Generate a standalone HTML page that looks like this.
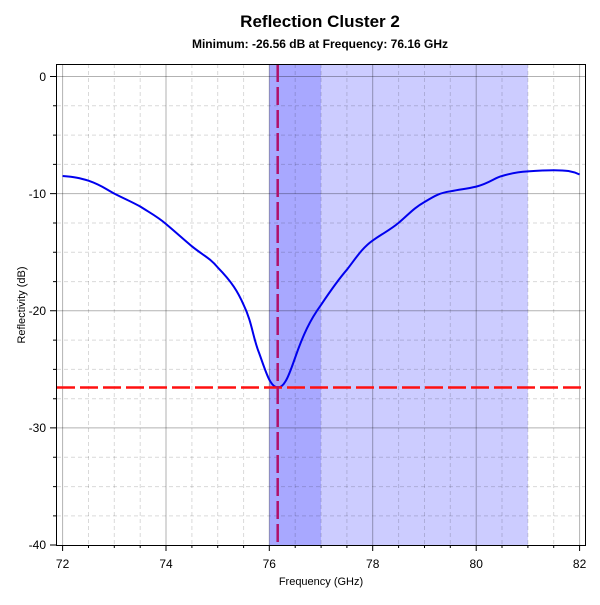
<!DOCTYPE html>
<html><head><style>
body{margin:0;background:#fff;font-family:"Liberation Sans",sans-serif}
</style></head><body>
<svg width="600" height="600" xmlns="http://www.w3.org/2000/svg" font-family="Liberation Sans, sans-serif">
<rect width="600" height="600" fill="#fff"/>
<text x="320" y="27" text-anchor="middle" font-size="17" font-weight="bold">Reflection Cluster 2</text>
<text x="320" y="48" text-anchor="middle" font-size="12" font-weight="bold">Minimum: -26.56 dB at Frequency: 76.16 GHz</text>
<!-- bands -->
<rect x="269.3" y="64" width="258.6" height="481" fill="#ccccff"/>
<rect x="269.3" y="64" width="51.7" height="481" fill="#a8a8ff"/>
<!-- minor grid -->
<g stroke="#000" stroke-opacity="0.15" stroke-width="1" stroke-dasharray="4,3">
<path d="M88.5 64V545M140.2 64V545M191.9 64V545M243.6 64V545M295.2 64V545M346.9 64V545M398.6 64V545M450.3 64V545M502 64V545M553.7 64V545"/>
<path d="M57 105.8H585M57 135.1H585M57 164.4H585M57 223H585M57 252.3H585M57 281.6H585M57 340.1H585M57 369.4H585M57 398.7H585M57 457.3H585M57 486.6H585M57 515.9H585"/>
<path d="M114.3 64V545M217.7 64V545M321.1 64V545M424.5 64V545M527.9 64V545"/>
</g>
<!-- major grid -->
<g stroke="#000" stroke-opacity="0.3" stroke-width="1">
<path d="M62.6 64V545M166 64V545M269.3 64V545M372.7 64V545M476.2 64V545M579.6 64V545"/>
<path d="M57 76.5H585M57 193.6H585M57 310.8H585M57 427.9H585"/>
</g>
<!-- curve -->
<path d="M62.6 176 C75 177,80 178,88.5 180.7 C101 185,104 188,114.3 193.6 C127 200,130 201,140.2 206.5 C152 214,158 217,166 224 C179 235,182 238,191.9 246.3 C204 256,210 258,217.7 267.4 C232 282,238 292,243.6 304.8 C252 322,253 338,259.1 353 C266 372,270 387,277.7 387.5 C285 388,290 372,295.2 357.5 C303 335,310 320,321.1 304.8 C331 290,338 280,346.9 269.7 C356 258,362 248,372.8 240.4 C385 232,390 230,398.6 222.9 C410 213,414 208,424.5 202 C436 195,440 193,450.3 191.3 C462 189,466 189,476.2 186.6 C490 183,494 178,502 176 C512 173,518 172,527.9 171.4 C540 170.5,548 170.2,553.7 170.2 C566 170.2,572 171,579.6 174.5" fill="none" stroke="#0000ee" stroke-width="2"/>
<!-- min lines -->
<line x1="57" y1="387.5" x2="585" y2="387.5" stroke="#ff1010" stroke-width="2.5" stroke-dasharray="18,5"/>
<line x1="277.7" y1="64" x2="277.7" y2="545" stroke="#b0106a" stroke-width="2.5" stroke-dasharray="18,5"/>
<!-- axes box -->
<rect x="56.5" y="64.5" width="529" height="481" fill="none" stroke="#000" stroke-width="1"/>
<!-- ticks -->
<g stroke="#000" stroke-width="1">
<path d="M62.6 545v6M166 545v6M269.3 545v6M372.7 545v6M476.2 545v6M579.6 545v6"/>
<path d="M88.5 545v3M114.3 545v3M140.2 545v3M191.9 545v3M217.7 545v3M243.6 545v3M295.2 545v3M321.1 545v3M346.9 545v3M398.6 545v3M424.5 545v3M450.3 545v3M502 545v3M527.9 545v3M553.7 545v3"/>
<path d="M50 76.5h6.5M50 193.6h6.5M50 310.8h6.5M50 427.9h6.5M50 545h6.5"/>
<path d="M53 105.8h3.5M53 135.1h3.5M53 164.4h3.5M53 223h3.5M53 252.3h3.5M53 281.6h3.5M53 340.1h3.5M53 369.4h3.5M53 398.7h3.5M53 457.3h3.5M53 486.6h3.5M53 515.9h3.5"/>
</g>
<g font-size="12" text-anchor="middle">
<text x="62.6" y="568">72</text><text x="166" y="568">74</text><text x="269.3" y="568">76</text><text x="372.7" y="568">78</text><text x="476.2" y="568">80</text><text x="579.6" y="568">82</text>
</g>
<g font-size="12" text-anchor="end">
<text x="46" y="81">0</text><text x="46" y="198">-10</text><text x="46" y="315">-20</text><text x="46" y="432">-30</text><text x="46" y="549">-40</text>
</g>
<text x="321" y="585" text-anchor="middle" font-size="11">Frequency (GHz)</text>
<text transform="translate(25,305) rotate(-90)" text-anchor="middle" font-size="11">Reflectivity (dB)</text>
</svg>
</body></html>
